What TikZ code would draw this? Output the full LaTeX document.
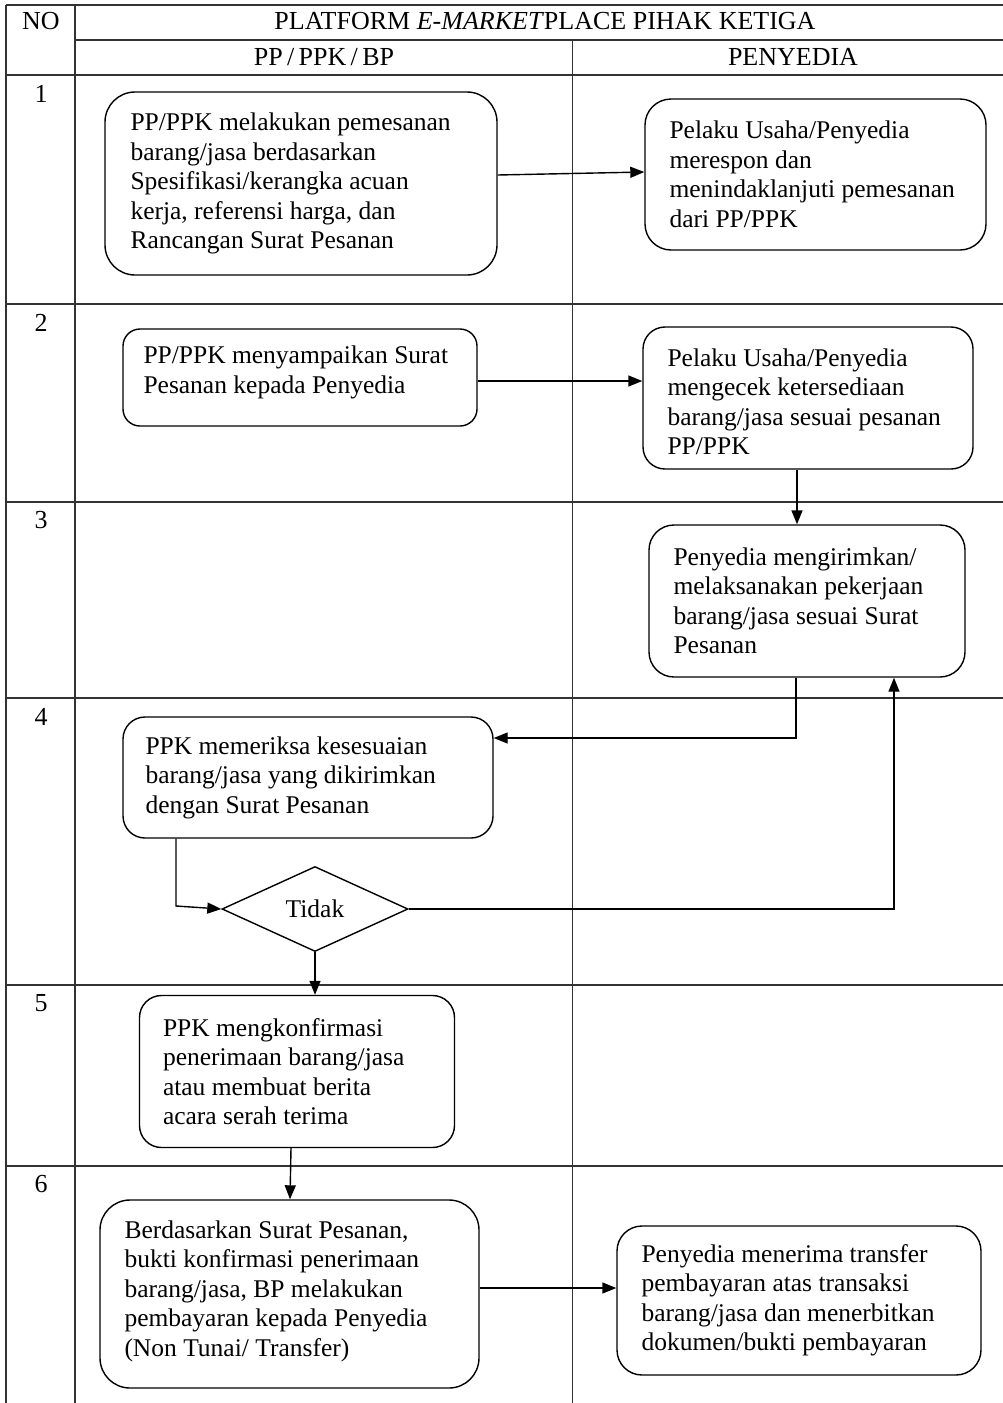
\documentclass[tikz,border=0pt]{standalone}
\usepackage{fontspec}
\setmainfont{Liberation Serif}
\usetikzlibrary{arrows.meta,shapes.geometric}
\begin{document}
\begin{tikzpicture}[x=1pt,y=-1pt,
  grid/.style={line width=1.4pt,black!80},
  box/.style={draw,line width=1.4pt,minimum width=#1,inner sep=0pt},
  txt/.style={anchor=west,align=left,inner sep=0pt,font=\fontsize{25.5}{29.5}\selectfont},
  hdr/.style={inner sep=0pt,font=\fontsize{26}{30}\selectfont},
  num/.style={inner sep=0pt,font=\fontsize{26}{30}\selectfont},
  conn/.style={line width=1.4pt},
  arr/.style={line width=1.4pt,-{Triangle[length=14pt,width=11pt]}}]
\useasboundingbox (0,0) rectangle (1003,1403);
% table grid
\draw[grid] (6,5) -- (1003,5);
\draw[grid] (75,40) -- (1003,40);
\draw[grid] (6,75) -- (1003,75);
\foreach \yy in {304,502,698,985,1166} \draw[grid] (6,\yy) -- (1003,\yy);
\draw[grid] (6,5) -- (6,1403);
\draw[grid] (75,5) -- (75,1403);
\draw[grid] (572.5,40) -- (572.5,1403);
% headers
\node[hdr] (hno) at (41,21) {NO};
\node[hdr] (hpl) at (545,21) {PLATFORM \textit{E-MARKET}PLACE PIHAK KETIGA};
\node[hdr] (hpp) at (324,57) {PP\,/\,PPK\,/\,BP};
\node[hdr] (hpe) at (793,57) {PENYEDIA};
\node[num] (n1) at (41,94) {1};
\node[num] (n2) at (41,323) {2};
\node[num] (n3) at (41,520) {3};
\node[num] (n4) at (41,717) {4};
\node[num] (n5) at (41,1003) {5};
\node[num] (n6) at (41,1184) {6};
% boxes
\node[box=392pt,minimum height=183pt,rounded corners=30pt] (a1) at (301,183.5) {};
\node[txt] (ta1) at ([xshift=26pt]a1.west) {PP/PPK melakukan pemesanan\\barang/jasa berdasarkan\\Spesifikasi/kerangka acuan\\kerja, referensi harga, dan\\Rancangan Surat Pesanan};
\node[box=341pt,minimum height=151pt,rounded corners=26pt] (b1) at (815.5,174.5) {};
\node[txt] (tb1) at ([xshift=25pt]b1.west) {Pelaku Usaha/Penyedia\\merespon dan\\menindaklanjuti pemesanan\\dari PP/PPK};
\node[box=354pt,minimum height=97pt,rounded corners=17pt] (a2) at (300,377.5) {};
\node[txt] (ta2) at ([xshift=21pt,yshift=5pt]a2.west) {PP/PPK menyampaikan Surat\\Pesanan kepada Penyedia};
\node[box=330pt,minimum height=142pt,rounded corners=22pt] (b2) at (808,398) {};
\node[txt] (tb2) at ([xshift=25pt,yshift=-4pt]b2.west) {Pelaku Usaha/Penyedia\\mengecek ketersediaan\\barang/jasa sesuai pesanan\\PP/PPK};
\node[box=316pt,minimum height=152pt,rounded corners=25pt] (b3) at (807,601) {};
\node[txt] (tb3) at ([xshift=25pt]b3.west) {Penyedia mengirimkan/\\melaksanakan pekerjaan\\barang/jasa sesuai Surat\\Pesanan};
\node[box=370pt,minimum height=121pt,rounded corners=22pt] (a4) at (308,777.5) {};
\node[txt] (ta4) at ([xshift=23pt]a4.west) {PPK memeriksa kesesuaian\\barang/jasa yang dikirimkan\\dengan Surat Pesanan};
\node[draw,line width=1.4pt,diamond,aspect=2.2,minimum width=186pt,minimum height=85pt,inner sep=0pt,font=\fontsize{25.5}{29.5}\selectfont] (d) at (315,909) {Tidak};
\node[box=315pt,minimum height=152pt,rounded corners=22pt] (a5) at (297,1071.5) {};
\node[txt] (ta5) at ([xshift=24pt]a5.west) {PPK mengkonfirmasi\\penerimaan barang/jasa\\atau membuat berita\\acara serah terima};
\node[box=379pt,minimum height=188pt,rounded corners=30pt] (a6) at (289.5,1294) {};
\node[txt] (ta6) at ([xshift=25pt,yshift=3pt]a6.west) {Berdasarkan Surat Pesanan,\\bukti konfirmasi penerimaan\\barang/jasa, BP melakukan\\pembayaran kepada Penyedia\\(Non Tunai/ Transfer)};
\node[box=364pt,minimum height=149pt,rounded corners=25pt] (b6) at (799,1300.5) {};
\node[txt] (tb6) at ([xshift=25pt]b6.west) {Penyedia menerima transfer\\pembayaran atas transaksi\\barang/jasa dan menerbitkan\\dokumen/bukti pembayaran};
% connectors
\coordinate (c1) at (796,738);
\coordinate (c2) at (176,906);
\coordinate (c3) at (894,909);
\draw[arr] (a1.east |- 0,175) -- (b1.west |- 0,172);
\draw[arr] (a2.east |- 0,381) -- (b2.west |- 0,381);
\draw[arr] (b2.south -| 797,0) -- (b3.north -| 797,0);
\draw[arr] (b3.south -| c1) -- (c1) -- (a4.east |- c1);
\draw[arr] (a4.south -| c2) -- (c2) -- (d.west);
\draw[arr] (d.east) -- (c3) -- (b3.south -| c3);
\draw[arr] (d.south) -- (a5.north -| d.south);
\draw[arr] (a5.south -| 291,0) -- (a6.north -| 290,0);
\draw[arr] (a6.east |- 0,1288) -- (b6.west |- 0,1288);
\end{tikzpicture}
\end{document}
